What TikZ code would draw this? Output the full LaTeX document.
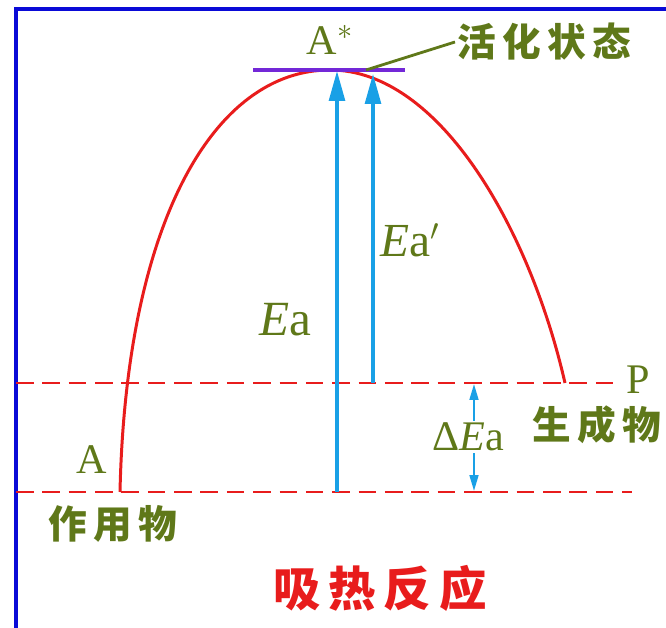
\documentclass[tikz,border=0pt]{standalone}
\usepackage{fontspec}
\setmainfont{Liberation Serif}
\newfontfamily\cjk{Noto Sans CJK SC}
\usetikzlibrary{arrows.meta}
\usetikzlibrary{positioning}

\definecolor{olivetext}{RGB}{95,120,25}
\definecolor{framblue}{RGB}{10,10,215}
\definecolor{curvered}{RGB}{232,28,28}
\definecolor{arrowblue}{RGB}{25,160,230}
\definecolor{levelpurple}{RGB}{115,40,215}

\begin{document}
\begin{tikzpicture}[x=0.02cm, y=-0.02cm,
	label/.style={text=olivetext, inner sep=1pt, font=\fontsize{24}{24}\selectfont},
	cjklabel/.style={text=olivetext, inner sep=1pt, font=\cjk\bfseries\fontsize{22}{22}\selectfont},
	level/.style={draw=curvered, dashed, dash pattern=on 10pt off 5pt, line width=1.5pt},
	energy/.style={draw=arrowblue, line width=1.8pt, -{Triangle[length=17pt,width=9pt]}}]
	\useasboundingbox (0,0) rectangle (666,628);
	
	%Frame
	\draw[framblue, line width=2.6pt] (666,9) -- (16,9) -- (16,628);
	
	%Energy levels
	\coordinate (lowL) at (16,492);
	\coordinate (lowR) at (632,492);
	\coordinate (highL) at (16,383);
	\coordinate (highR) at (616,383);
	\draw[level] (lowL) -- (lowR);
	\draw[level] (highL) -- (highR);
	
	%Reaction curve
	\coordinate (start) at (120,492);
	\coordinate (peak) at (330,70);
	\coordinate (finish) at (565,383);
	\draw[curvered, line width=1.7pt] (start) .. controls (126,220) and (215,70) .. (peak)
		.. controls (440,70) and (530,230) .. (finish);
	
	%Activated state
	\draw[levelpurple, line width=1.8pt] (253,70) -- (405,70);
	\node[label] (astar) at (330,40) {A$^{*}$};
	\node[cjklabel, anchor=west] (activated) at (455,42) {活\,化\,状\,态};
	\coordinate (touch) at (366,70);
	\draw[olivetext, line width=1.6pt] (touch) -- (activated.west);
	
	%Activation energies
	\coordinate (eaBase) at (337,492);
	\coordinate (eaTop) at (337,71);
	\coordinate (eapBase) at (373,383);
	\coordinate (eapTop) at (373,74);
	\draw[energy] (eaBase) -- (eaTop);
	\draw[energy] (eapBase) -- (eapTop);
	\node[label, font=\fontsize{28}{28}\selectfont] (ea) at (285,320) {\textit{E}a};
	\node[label, font=\fontsize{27}{27}\selectfont] (eap) at (410,240) {\textit{E}a$'$};
	
	%Energy difference
	\node[label] (dea) at (468,437) {Δ\textit{E}a};
	\draw[arrowblue, line width=1.2pt, -{Triangle[length=9pt,width=5pt]}] (dea.north -| 474,0) -- (474,384);
	\draw[arrowblue, line width=1.2pt, -{Triangle[length=9pt,width=5pt]}] (dea.south -| 474,0) -- (474,491);
	
	%Species
	\node[label] (a) at (92,460) {A};
	\node[cjklabel] (reactant) at (113,524) {作\,用\,物};
	\node[label] (p) at (638,380) {P};
	\node[cjklabel] (product) at (597,425) {生\,成\,物};
	
	%Title
	\node[cjklabel, text=curvered, font=\cjk\bfseries\fontsize{27}{27}\selectfont] (title) at (380,588) {吸\,热\,反\,应};
\end{tikzpicture}
\end{document}
